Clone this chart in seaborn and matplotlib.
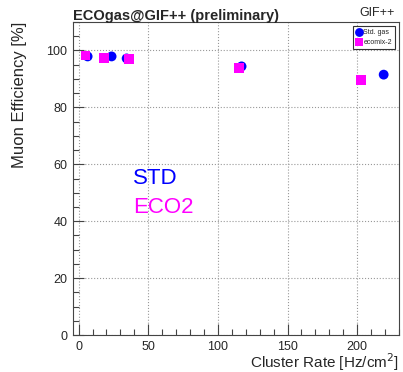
import matplotlib
matplotlib.use("Agg")
import matplotlib.pyplot as plt
import seaborn as sns
import pandas as pd
from matplotlib.ticker import MultipleLocator

std_rate = [6.5, 23.7, 34.5, 117, 219]
std_eff = [97.9, 97.9, 97.2, 94.4, 91.5]
eco_rate = [5, 18, 36, 115, 203]
eco_eff = [98.2, 97.4, 97.0, 93.9, 89.5]

df = pd.concat([
    pd.DataFrame({"rate": std_rate, "eff": std_eff, "gas": "Std. gas"}),
    pd.DataFrame({"rate": eco_rate, "eff": eco_eff, "gas": "ecomix-2"}),
])

sns.set_style("white")
plt.rcParams['font.family'] = ['Liberation Sans', 'DejaVu Sans']

fig = plt.figure(figsize=(4.03, 3.72), dpi=100)
ax = fig.add_axes([73/403, 1-335/372, (399-73)/403, (335-22)/372])

sns.scatterplot(data=df, x="rate", y="eff", hue="gas", style="gas",
                palette={"Std. gas": "#0000ff", "ecomix-2": "#ff00ff"},
                markers={"Std. gas": "o", "ecomix-2": "s"},
                s=50, linewidth=0, ax=ax, legend=True)

ax.set_xlim(-4, 230)
ax.set_ylim(0, 110)
ax.xaxis.set_major_locator(MultipleLocator(50))
ax.xaxis.set_minor_locator(MultipleLocator(10))
ax.yaxis.set_major_locator(MultipleLocator(20))
ax.yaxis.set_minor_locator(MultipleLocator(5))
ax.tick_params(which='both', direction='in', bottom=True, left=True,
               top=False, right=False, labelsize=9, color='#444444')
ax.tick_params(which='major', length=8, width=0.8, pad=4)
ax.tick_params(which='minor', length=4, width=0.8)
ax.grid(True, which='major', linestyle=':', color='#999999', linewidth=0.8)
for s in ax.spines.values():
    s.set_color('#444444')
    s.set_linewidth(0.8)

ax.set_xlabel("Cluster Rate [Hz/cm$^2$]", fontsize=11, ha='right', va='center')
ax.xaxis.set_label_coords(1.0, -0.086)
ax.set_ylabel("Muon Efficiency [%]", fontsize=12, loc='top', labelpad=14)

leg = ax.legend(loc='upper right', fontsize=5, markerscale=0.9, handletextpad=0.1,
                borderpad=0.4, frameon=True, fancybox=False, borderaxespad=0.6,
                handlelength=1.0)
leg.get_frame().set_edgecolor('black')
leg.get_frame().set_linewidth(0.8)

fig.text(73/403, 1-16/372, "ECOgas@GIF++ (preliminary)", fontsize=10.5, fontweight='bold',
         va='center', ha='left')
fig.text(395/403, 1-13/372, "GIF++", fontsize=9, va='center', ha='right')
fig.text(133/403, 1-178/372, "STD", fontsize=16, color='#0000ff', va='center', ha='left')
fig.text(133/403, 1-208/372, "ECO2", fontsize=16, color='#ff00ff', va='center', ha='left')

fig.savefig("out.png", dpi=100)
